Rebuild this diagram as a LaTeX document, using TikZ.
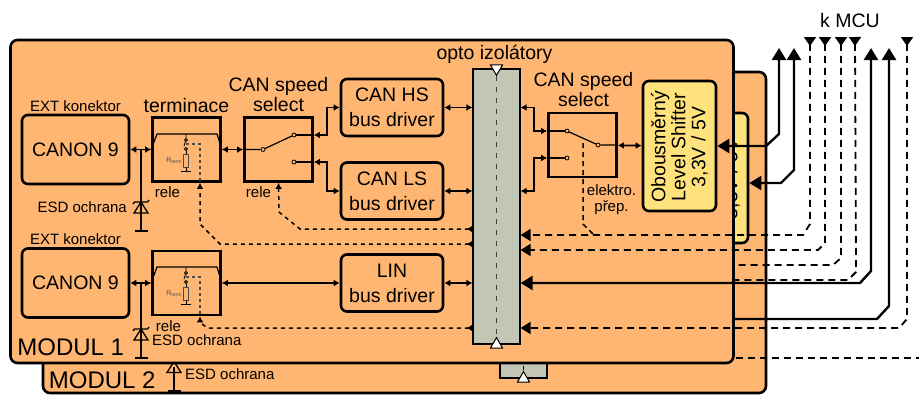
\documentclass[tikz,border=0pt]{standalone}
\usepackage{fontspec}
\setmainfont{Liberation Sans}
\usepackage{xcolor}
\usetikzlibrary{arrows.meta,positioning,shapes.geometric}
\definecolor{modfill}{HTML}{FFB672}
\definecolor{lvlfill}{HTML}{FFE27C}
\definecolor{barfill}{HTML}{C2C7B5}

\begin{document}
\begin{tikzpicture}[
    x=1pt, y=-1pt,
    modul/.style={rectangle, draw, line width=2.6pt, rounded corners=7pt, fill=modfill},
    conn/.style={rectangle, draw, line width=2.6pt, rounded corners=6pt, minimum width=107pt, minimum height=69pt, font=\fontsize{19.5}{21}\selectfont},
    driver/.style={rectangle, draw, line width=2.6pt, rounded corners=6pt, minimum width=102pt, minimum height=57pt, align=center, font=\fontsize{19.5}{25}\selectfont},
    relbox/.style={rectangle, draw, line width=2.8pt, minimum width=68pt, minimum height=64pt},
    lvlbox/.style={rectangle, draw, line width=2.6pt, rounded corners=6pt, fill=lvlfill, minimum width=73pt, minimum height=130pt},
    lvltext/.style={rotate=90, align=center, font=\fontsize{19.5}{20}\selectfont},
    optobar/.style={rectangle, draw, line width=1.2pt, fill=barfill},
    opentri/.style={regular polygon, regular polygon sides=3, draw, line width=1pt, fill=white, inner sep=0pt, minimum size=14pt},
    contact/.style={circle, draw, line width=0.8pt, fill=modfill, inner sep=0pt, minimum size=4pt},
    rterm/.style={rectangle, draw=black!70, line width=0.7pt, inner sep=0pt, minimum width=5pt, minimum height=13pt},
    big/.style={font=\fontsize{19.5}{20}\selectfont, align=center, inner sep=0pt},
    small/.style={font=\fontsize{15}{16}\selectfont, align=center, inner sep=0pt},
    modname/.style={font=\fontsize{24}{24}\selectfont, inner sep=0pt},
    arrow/.style={{Latex[length=6pt,width=7pt]}-{Latex[length=6pt,width=7pt]}, line width=1.7pt},
    ctrl/.style={{Latex[reversed,length=6pt,width=7pt]}-{Latex[length=6pt,width=7pt]}, line width=1.5pt, dash pattern=on 4pt off 4pt},
    busarrow/.style={{Triangle[length=12pt,width=14pt]}-{Triangle[length=12pt,width=14pt]}, line width=2.4pt},
    upbus/.style={{Triangle[length=12pt,width=14pt]}-, line width=2.4pt},
    dasharrow/.style={{Triangle[reversed,length=9pt,width=12pt]}-{Triangle[length=10pt,width=12pt]}, line width=1.8pt, dash pattern=on 7pt off 5pt},
    dashbus/.style={{Triangle[reversed,length=9pt,width=12pt]}-, line width=1.8pt, dash pattern=on 7pt off 5pt},
    diode/.pic={
        \draw[line width=1.3pt] (-7,5.5) -- (7,5.5) -- (0,-5.5) -- cycle;
        \draw[line width=1.3pt] (-8,-3.5) -- (-6.5,-5.5) -- (6.5,-5.5) -- (8,-7.5);
    }
]
    \useasboundingbox (0,0) rectangle (919,394);

    % Modul 2 in the back
    \node[modul, minimum width=723pt, minimum height=321pt] (modul2) at (404.5,232.5) {};
    \node[lvlbox] (lvl2) at (711.5,178) {};
    \node[lvltext, xshift=-1pt] (lvl2text) at (lvl2.center) {Obousměrný\\Level Shifter\\3,3V / 5V};
    \node[optobar, minimum width=47pt, minimum height=56pt] (bar2) at (523.5,350) {};
    \node[opentri] (bar2tri) at (bar2.south) {};
    \draw[line width=1.3pt, dash pattern=on 4pt off 4pt] (bar2.center) -- (bar2tri);
    \node[modname, above right=5pt and 7pt of modul2.south west] (modul2name) {MODUL 2};

    % Modul 2 lines that end at modul 1
    \coordinate (mcu5) at (841,37);
    \coordinate (mcu6) at (855,37);
    \coordinate (mcu8) at (889,48);
    \draw[dashbus] (mcu5) -- (841,258) -- (833,265) -- (lvl2.center |- 0,265);
    \draw[dashbus] (mcu6) -- (856,272) -- (848,280) -- (lvl2.center |- 0,280);
    \draw[upbus] (mcu8) -- (889,306) -- (877,319) -- (lvl2.center |- 0,319);
    \draw[line width=1.8pt, dash pattern=on 7pt off 5pt] (lvl2.center |- 0,358) -- (919,358);

    % ESD of modul 2
    \coordinate (esd3) at (174,367);
    \coordinate (esd3gnd) at (174,391);
    \draw[line width=1.3pt] (esd3) -- (esd3gnd);
    \draw[line width=1.5pt] (168,391) -- (181,391);
    \pic at (esd3) {diode};
    \node[small, right=11pt of esd3, yshift=-7pt] (esd3text) {ESD ochrana};

    % Modul 1
    \node[modul, minimum width=723pt, minimum height=323pt] (modul1) at (372,201.5) {};
    \node[modname, above right=8pt and 8pt of modul1.south west] (modul1name) {MODUL 1};

    % Connectors
    \node[conn] (canon1) at (75.5,149.5) {CANON 9};
    \node[conn] (canon2) at (75.5,283) {CANON 9};
    \node[small, above=2pt of canon1] (ext1) {EXT konektor};
    \node[small, above=2pt of canon2] (ext2) {EXT konektor};

    % Termination
    \node[relbox] (term1) at (186.5,149.5) {};
    \node[relbox] (term2) at (186.5,283) {};
    \node[big, above=3pt of term1] (termtext) {terminace};
    \node[small, below=4pt of term1, xshift=-19pt] (rele1) {rele};
    \node[small, below=4pt of term2, xshift=-18pt] (rele3) {rele};

    % Speed select on the bus side
    \node[relbox] (sel1) at (278.5,149.5) {};
    \node[big, above=4pt of sel1] (sel1text) {CAN speed\\select};
    \node[small, below=4pt of sel1, xshift=-20pt] (rele2) {rele};

    % Bus drivers
    \node[driver] (hs) at (392,107.5) {CAN HS\\bus driver};
    \node[driver] (ls) at (392,191) {CAN LS\\bus driver};
    \node[driver] (lin) at (392,283) {LIN\\bus driver};

    % Opto bar
    \node[optobar, minimum width=47pt, minimum height=275pt] (bar) at (496.5,206.5) {};
    \node[big, above=5pt of bar.north, xshift=-2pt] (optotext) {opto izolátory};
    \node[opentri, shape border rotate=180] (optotop) at (bar.north) {};
    \node[opentri] (optobot) at (bar.south) {};
    \draw[line width=1.3pt, black!75, dash pattern=on 5pt off 6pt] (optotop) -- (optobot);

    % Speed select on the MCU side
    \node[relbox] (sel2) at (582.5,145) {};
    \node[big, above=5pt of sel2, xshift=1pt] (sel2text) {CAN speed\\select};
    \node[small, below=6pt of sel2, xshift=29pt] (preptext) {elektro.\\přep.};

    % Level shifter
    \node[lvlbox] (lvl1) at (679.5,146) {};
    \node[lvltext, xshift=-1pt] (lvl1text) at (lvl1.center) {Obousměrný\\Level Shifter\\3,3V / 5V};

    % Termination inside 1
    \node[contact, minimum size=3pt] (t1a) at (186,140) {};
    \node[contact, minimum size=3pt] (t1b) at (186,149) {};
    \node[rterm] (t1r) at (186,160.5) {};
    \node[font=\fontsize{7}{7}\selectfont, text=black!70, inner sep=0pt, left=1pt of t1r] (t1rtext) {R$_{\mathrm{term}}$};
    \coordinate (t1gnd) at (186,171);
    \draw[line width=1.2pt] (term1.west) -- (157,134) -- (217,134) -- (term1.east);
    \draw[line width=0.8pt] (186,134) -- (t1a) -- (184,146);
    \draw[line width=0.8pt] (t1b) -- (t1r) -- (t1gnd);
    \draw[line width=0.8pt] (181,171) -- (191,171);
    \draw[line width=1.1pt, black!70, dash pattern=on 3pt off 3pt] (186,144) -- (200,144) -- (term1.south -| 200,0);

    % Termination inside 2
    \node[contact, minimum size=3pt] (t2a) at (186,273) {};
    \node[contact, minimum size=3pt] (t2b) at (186,282) {};
    \node[rterm] (t2r) at (186,293.5) {};
    \node[font=\fontsize{7}{7}\selectfont, text=black!70, inner sep=0pt, left=1pt of t2r] (t2rtext) {R$_{\mathrm{term}}$};
    \coordinate (t2gnd) at (186,304);
    \draw[line width=1.2pt] (term2.west) -- (157,267) -- (217,267) -- (term2.east);
    \draw[line width=0.8pt] (186,267) -- (t2a) -- (184,279);
    \draw[line width=0.8pt] (t2b) -- (t2r) -- (t2gnd);
    \draw[line width=0.8pt] (181,304) -- (191,304);
    \draw[line width=1.1pt, black!70, dash pattern=on 3pt off 3pt] (186,277) -- (200,277) -- (term2.south -| 200,0);

    % Switch in sel1
    \node[contact] (s1com) at (263,149.5) {};
    \node[contact] (s1hs) at (294,135) {};
    \node[contact] (s1ls) at (294,162) {};
    \draw[line width=1.2pt] (sel1.west) -- (s1com) -- (s1hs);
    \draw[line width=1.2pt] (s1hs) -- (sel1.east |- s1hs);
    \draw[line width=1.2pt] (s1ls) -- (sel1.east |- s1ls);

    % Switch in sel2
    \node[contact] (s2hs) at (567,131) {};
    \node[contact] (s2ls) at (567,158) {};
    \node[contact] (s2com) at (598,145) {};
    \draw[line width=1.2pt] (sel2.east) -- (s2com) -- (s2hs);
    \draw[line width=1.2pt] (sel2.west |- s2hs) -- (s2hs);
    \draw[line width=1.2pt] (sel2.west |- s2ls) -- (s2ls);

    % ESD diodes
    \coordinate (esd1top) at (141,149.5);
    \coordinate (esd1) at (141,207.5);
    \coordinate (esd1gnd) at (141,231);
    \draw[line width=1.3pt] (esd1top) -- (esd1gnd);
    \draw[line width=1.5pt] (134.5,231) -- (147.5,231);
    \pic at (esd1) {diode};
    \node[small, left=14pt of esd1] (esd1text) {ESD ochrana};
    \coordinate (esd2top) at (141,283);
    \coordinate (esd2) at (141,334.5);
    \coordinate (esd2gnd) at (141,358);
    \draw[line width=1.3pt] (esd2top) -- (esd2gnd);
    \draw[line width=1.5pt] (134.5,358) -- (147.5,358);
    \pic at (esd2) {diode};
    \node[small, right=11pt of esd2, yshift=-6pt] (esd2text) {ESD ochrana};

    % Arrows
    \draw[arrow] (canon1) -- (term1);
    \draw[arrow] (canon2) -- (term2);
    \draw[arrow] (term1) -- (sel1);
    \draw[arrow] (term2) -- (lin);
    \draw[arrow] (sel1.east |- s1hs) -- (327,135) -- (327,107.5) -- (hs);
    \draw[arrow] (sel1.east |- s1ls) -- (327,162) -- (327,191) -- (ls);
    \draw[arrow] (hs) -- (bar.west |- hs);
    \draw[arrow] (ls) -- (bar.west |- ls);
    \draw[arrow] (lin) -- (bar.west |- lin);
    \draw[arrow] (bar.east |- hs) -- (534,107.5) -- (534,131) -- (sel2.west |- s2hs);
    \draw[arrow] (bar.east |- ls) -- (534,191) -- (534,158) -- (sel2.west |- s2ls);
    \draw[arrow] (sel2) -- (lvl1);

    % Relay control
    \draw[ctrl] (bar.west |- 0,229) -- (300,229) -- (279,212) -- (sel1.south);
    \draw[ctrl] (bar.west |- 0,244) -- (220,244) -- (200,224) -- (term1.south -| 200,0);
    \draw[ctrl] (bar.west |- 0,328) -- (207,328) -- (200,322) -- (term2.south -| 200,0);
    \draw[line width=1.5pt, dash pattern=on 5pt off 4pt] (583,143) -- (583,224) -- (594,235);

    % Lines to MCU
    \coordinate (mcu1) at (779,48);
    \coordinate (mcu2) at (794,48);
    \coordinate (mcu3) at (810,37);
    \coordinate (mcu4) at (825,37);
    \coordinate (mcu7) at (871,48);
    \coordinate (mcu9) at (907,37);
    \node[big, above=9pt of mcu5, xshift=9pt] (mcutext) {k MCU};
    \draw[busarrow] (mcu1) -- (779,134) -- (766,146) -- (lvl1);
    \draw[busarrow] (mcu2) -- (794,170) -- (781,183) -- (lvl2.east |- 0,183);
    \draw[busarrow] (mcu7) -- (871,271) -- (860,283) -- (bar.east |- 0,283);
    \draw[dasharrow] (mcu3) -- (810,224) -- (803,235) -- (bar.east |- 0,235);
    \draw[dasharrow] (mcu4) -- (825,243) -- (818,250) -- (bar.east |- 0,250);
    \draw[dasharrow] (mcu9) -- (907,319) -- (899,328) -- (bar.east |- 0,328);

\end{tikzpicture}
\end{document}
